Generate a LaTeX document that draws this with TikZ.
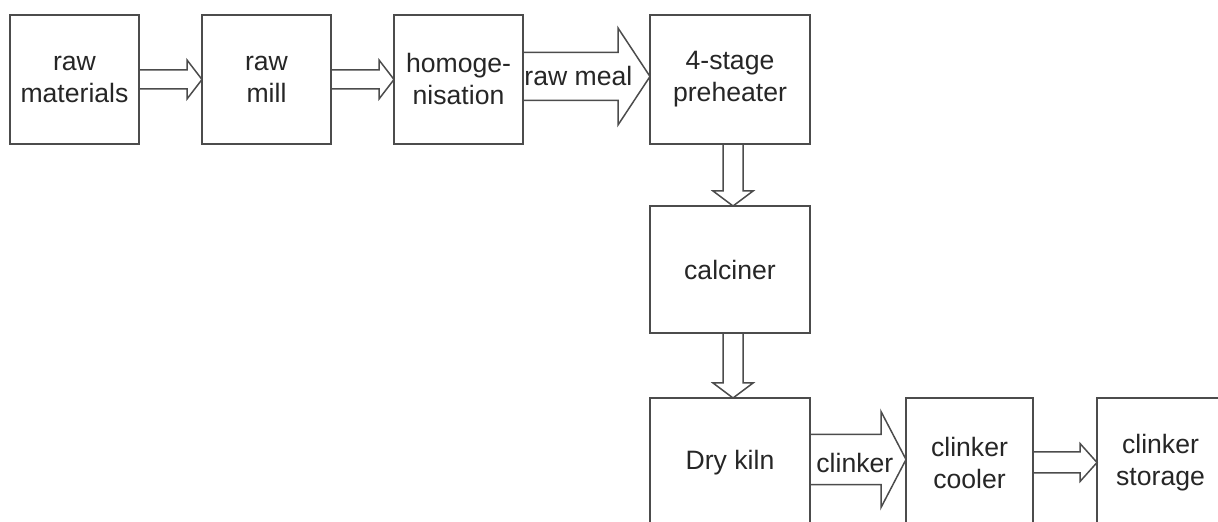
\documentclass[tikz,border=0pt]{standalone}
\usepackage{fontspec}
\setmainfont{Liberation Sans}
\usepackage{tikz}
\usetikzlibrary{positioning,calc}

\newcommand{\harrow}[5]{%
  \draw[blockarrow] let \p1=#1, \p2=#2 in
    (\x1,\y1+#3) -- (\x2-#5,\y1+#3) -- (\x2-#5,\y1+#4) -- (\x2,\y1)
    -- (\x2-#5,\y1-#4) -- (\x2-#5,\y1-#3) -- (\x1,\y1-#3) -- cycle;}
\newcommand{\varrow}[5]{%
  \draw[blockarrow] let \p1=#1, \p2=#2 in
    (\x1+#3,\y1) -- (\x1+#3,\y2+#5) -- (\x1+#4,\y2+#5) -- (\x1,\y2)
    -- (\x1-#4,\y2+#5) -- (\x1-#3,\y2+#5) -- (\x1-#3,\y1) -- cycle;}

\begin{document}
\begin{tikzpicture}[
x=0.5pt,y=-0.5pt,
stage/.style={rectangle,draw=black!70,line width=0.75pt,minimum width=64.5pt,minimum height=64.5pt,
  inner sep=0pt,outer sep=0pt,align=center,text=black!85,font=\fontsize{13.3pt}{16pt}\selectfont},
column/.style={stage,minimum width=80pt},
blockarrow/.style={draw=black!70,line width=0.75pt,line join=miter},
flowlabel/.style={inner sep=0pt,text=black!85,font=\fontsize{13.3pt}{16pt}\selectfont}
]
\useasboundingbox (0,0) rectangle (1218,522);
\foreach \name/\x/\txt in {rawmat/74.5/{raw\\materials},rawmill/266.5/{raw\\mill},homog/458.5/{homoge-\\nisation}}
{
    \node[stage] (\name) at (\x,79.5) {\txt};
}
\node[column] (preheat) at (730,79.5) {4-stage\\preheater};
\node[column,minimum height=63.5pt] (calciner) at (730,269.5) {calciner};
\node[column] (kiln) at (730,462.5) {Dry kiln};
\node[stage,minimum width=63.5pt] (cooler) at (969.5,462.5) {clinker\\cooler};
\node[stage,minimum width=63.5pt] (storage) at (1160.5,462.5) {clinker\\storage};

\harrow{(rawmat.east)}{(rawmill.west)}{4.75pt}{9.75pt}{7.5pt}
\harrow{(rawmill.east)}{(homog.west)}{4.75pt}{9.75pt}{7.5pt}
\harrow{($(homog.east)+(0,1.5pt)$)}{($(preheat.west)+(0,1.5pt)$)}{12pt}{24.25pt}{16pt}
\varrow{($(preheat.south)+(1.5pt,0)$)}{($(calciner.north)+(1.5pt,0)$)}{5pt}{10pt}{7.5pt}
\varrow{($(calciner.south)+(1.5pt,0)$)}{($(kiln.north)+(1.5pt,0)$)}{5pt}{10pt}{7.5pt}
\harrow{($(kiln.east)+(0,1.5pt)$)}{($(cooler.west)+(0,1.5pt)$)}{12.5pt}{24pt}{12.5pt}
\harrow{(cooler.east)}{(storage.west)}{5.25pt}{9.5pt}{8.5pt}

\node[flowlabel,right=0.5pt of homog.east,yshift=1.5pt] (meal) {raw meal};
\node[flowlabel,right=3pt of kiln.east] (clinker) {clinker};
\end{tikzpicture}
\end{document}
